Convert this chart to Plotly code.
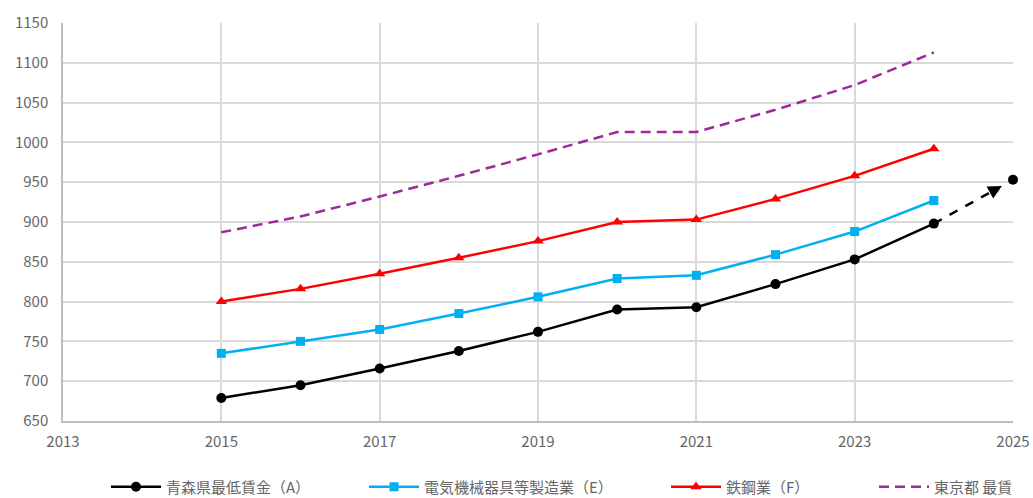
import plotly.graph_objects as go

years = [2015, 2016, 2017, 2018, 2019, 2020, 2021, 2022, 2023, 2024]
aomori = [679, 695, 716, 738, 762, 790, 793, 822, 853, 898]
aomori_next_year = 2025
aomori_next = 953
electric = [735, 750, 765, 785, 806, 829, 833, 859, 888, 927]
steel = [800, 816, 835, 855, 876, 900, 903, 929, 958, 992]
tokyo = [887, 907, 932, 958, 985, 1013, 1013, 1041, 1072, 1113]

names = ["青森県最低賃金（A）", "電気機械器具等製造業（E）", "鉄鋼業（F）", "東京都 最賃"]

FONT = "Noto Sans CJK JP"
TXT = "#666666"
W, H = 1033, 498
fig = go.Figure()

fig.add_trace(go.Scatter(x=years, y=aomori, mode="lines+markers", name=names[0],
                         line=dict(color="black", width=2.5),
                         marker=dict(symbol="circle", size=10, color="black"),
                         legend="legend"))
fig.add_trace(go.Scatter(x=years, y=electric, mode="lines+markers", name=names[1],
                         line=dict(color="#00B0F0", width=2.5),
                         marker=dict(symbol="square", size=9, color="#00B0F0"),
                         legend="legend2"))
fig.add_trace(go.Scatter(x=years, y=steel, mode="lines+markers", name=names[2],
                         line=dict(color="#FF0000", width=2.5),
                         marker=dict(symbol="triangle-up", size=10, color="#FF0000"),
                         legend="legend3"))
fig.add_trace(go.Scatter(x=years, y=tokyo, mode="lines", name=names[3],
                         line=dict(color="#A0289A", width=2.5, dash="10px,6px"),
                         legend="legend4"))

# projection arrow for Aomori
x0, y0 = years[-1], aomori[-1]
x1, y1 = aomori_next_year, aomori_next
f_tip, f_tail = 0.86, 0.72
tipx, tipy = x0 + f_tip * (x1 - x0), y0 + f_tip * (y1 - y0)
tailx, taily = x0 + f_tail * (x1 - x0), y0 + f_tail * (y1 - y0)
fig.add_trace(go.Scatter(x=[x0, tailx + 0.04], y=[y0, taily + 0.04 * (y1 - y0)], mode="lines",
                         line=dict(color="black", width=2.5, dash="dash"),
                         showlegend=False, hoverinfo="skip"))
fig.add_annotation(x=tipx, y=tipy, ax=tailx, ay=taily, xref="x", yref="y", axref="x", ayref="y",
                   showarrow=True, arrowhead=2, arrowsize=1.1, arrowwidth=2.5, arrowcolor="black", text="")
fig.add_trace(go.Scatter(x=[x1], y=[y1], mode="markers",
                         marker=dict(symbol="circle", size=10, color="black"),
                         showlegend=False, cliponaxis=False))

leg_common = dict(orientation="h", xref="container", yref="container",
                  y=1 - 487 / H, yanchor="middle", xanchor="left", itemwidth=50,
                  font=dict(family=FONT, size=15, color=TXT), bgcolor="rgba(0,0,0,0)")
fig.update_layout(
    width=W, height=H,
    margin=dict(l=63, r=20, t=23, b=77, autoexpand=False),
    plot_bgcolor="white", paper_bgcolor="white",
    font=dict(family=FONT, size=15, color=TXT),
    legend=dict(x=106 / W, **leg_common),
    legend2=dict(x=364 / W, **leg_common),
    legend3=dict(x=666 / W, **leg_common),
    legend4=dict(x=874 / W, **leg_common),
    xaxis=dict(range=[2013, 2025], dtick=2, tick0=2013, showgrid=True, gridcolor="#d9d9d9", gridwidth=1.5,
               showline=True, linecolor="#bfbfbf", linewidth=1.5, zeroline=False, ticks="",
               ticklabelstandoff=6,
               tickfont=dict(family=FONT, size=15, color=TXT)),
    yaxis=dict(range=[650, 1150], dtick=50, tick0=650, showgrid=True, gridcolor="#d9d9d9", gridwidth=1.5,
               showline=True, linecolor="#bfbfbf", linewidth=1.5, zeroline=False, ticks="",
               ticklabelstandoff=10,
               tickfont=dict(family=FONT, size=15, color=TXT)),
)

fig.write_html("out.html", config={"displayModeBar": False},
               post_script="document.body.style.margin='0';document.body.style.overflow='hidden';")
